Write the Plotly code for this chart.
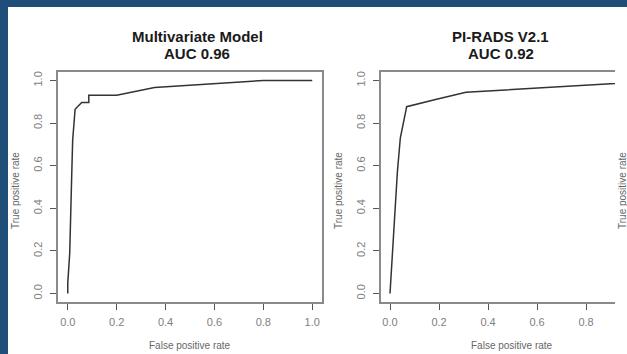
import plotly.graph_objects as go

# ---- data ----
mv_fpr = [0.0, 0.0, 0.008, 0.012, 0.016, 0.02, 0.028, 0.03, 0.057, 0.086, 0.086, 0.2, 0.355, 0.8, 1.0]
mv_tpr = [0.0, 0.05, 0.19, 0.45, 0.55, 0.72, 0.86, 0.865, 0.897, 0.897, 0.931, 0.931, 0.967, 1.0, 1.0]
pr_fpr = [0.0, 0.016, 0.03, 0.042, 0.068, 0.19, 0.31, 0.62, 0.918, 1.0]
pr_tpr = [0.0, 0.31, 0.57, 0.73, 0.877, 0.912, 0.945, 0.966, 0.986, 1.0]
tick_vals = [0.0, 0.2, 0.4, 0.6, 0.8, 1.0]
tick_text = ["0.0", "0.2", "0.4", "0.6", "0.8", "1.0"]
titles = [("Multivariate Model", "AUC 0.96"), ("PI-RADS V2.1", "AUC 0.92")]
x_label = "False positive rate"
y_label = "True positive rate"

W, H = 627, 354
BLUE = "#1f4e79"
FONT = "Liberation Sans, Arial, sans-serif"

def px(x):
    return x / W

def py(y):
    return 1 - y / H

fig = go.Figure()
fig.add_trace(go.Scatter(x=mv_fpr, y=mv_tpr, mode="lines", xaxis="x", yaxis="y",
                         line=dict(color="#333333", width=1.5), showlegend=False))
fig.add_trace(go.Scatter(x=pr_fpr, y=pr_tpr, mode="lines", xaxis="x2", yaxis="y2",
                         line=dict(color="#333333", width=1.5), showlegend=False))

ax_common = dict(showgrid=False, zeroline=False, showline=True, linecolor="#8a8a8a",
                 linewidth=1.6, ticks="outside", ticklen=6, tickcolor="#555555",
                 tickwidth=1.3, tickvals=tick_vals, ticktext=tick_text,
                 tickfont=dict(family=FONT, size=11, color="#808080"), fixedrange=True)

ydom = [py(302), py(72)]
fig.update_layout(
    width=W, height=H, margin=dict(l=0, r=0, t=0, b=0),
    paper_bgcolor=BLUE, plot_bgcolor="white",
    xaxis=dict(domain=[px(58), px(322)], range=[-0.04, 1.04], anchor="y", mirror=True,
               ticklabelstandoff=3, **ax_common),
    yaxis=dict(domain=ydom, range=[-0.04, 1.04], anchor="x", mirror=True, tickangle=-90,
               ticklabelstandoff=4, **ax_common),
    xaxis2=dict(domain=[px(380.7), px(615)], range=[-0.038, 0.918], anchor="y2", mirror=True,
                ticklabelstandoff=3, **ax_common),
    yaxis2=dict(domain=ydom, range=[-0.04, 1.04], anchor="x2", mirror=False, tickangle=-90,
                ticklabelstandoff=4, **ax_common),
    shapes=[dict(type="rect", xref="paper", yref="paper", x0=px(8), x1=1, y0=0, y1=py(7),
                 fillcolor="white", line=dict(width=0), layer="below")],
)

ann = []
for (t1, t2), cx in zip(titles, [197, 501]):
    ann.append(dict(text="<b>%s</b>" % t1, x=px(cx), y=py(37)))
    ann.append(dict(text="<b>%s</b>" % t2, x=px(cx), y=py(53)))
anns = [dict(a, xref="paper", yref="paper", showarrow=False, xanchor="center", yanchor="middle",
             font=dict(family=FONT, size=15, color="#1a1a1a")) for a in ann]
for cx in [190, 512]:
    anns.append(dict(text=x_label, x=px(cx), y=py(345), xref="paper", yref="paper",
                     showarrow=False, xanchor="center", yanchor="middle",
                     font=dict(family=FONT, size=10, color="#666666")))
for cx in [15, 338, 622]:
    anns.append(dict(text=y_label, x=px(cx), y=py(191), xref="paper", yref="paper",
                     showarrow=False, xanchor="center", yanchor="middle", textangle=-90,
                     font=dict(family=FONT, size=10, color="#666666")))
fig.update_layout(annotations=anns)

fig.write_html("out.html")
